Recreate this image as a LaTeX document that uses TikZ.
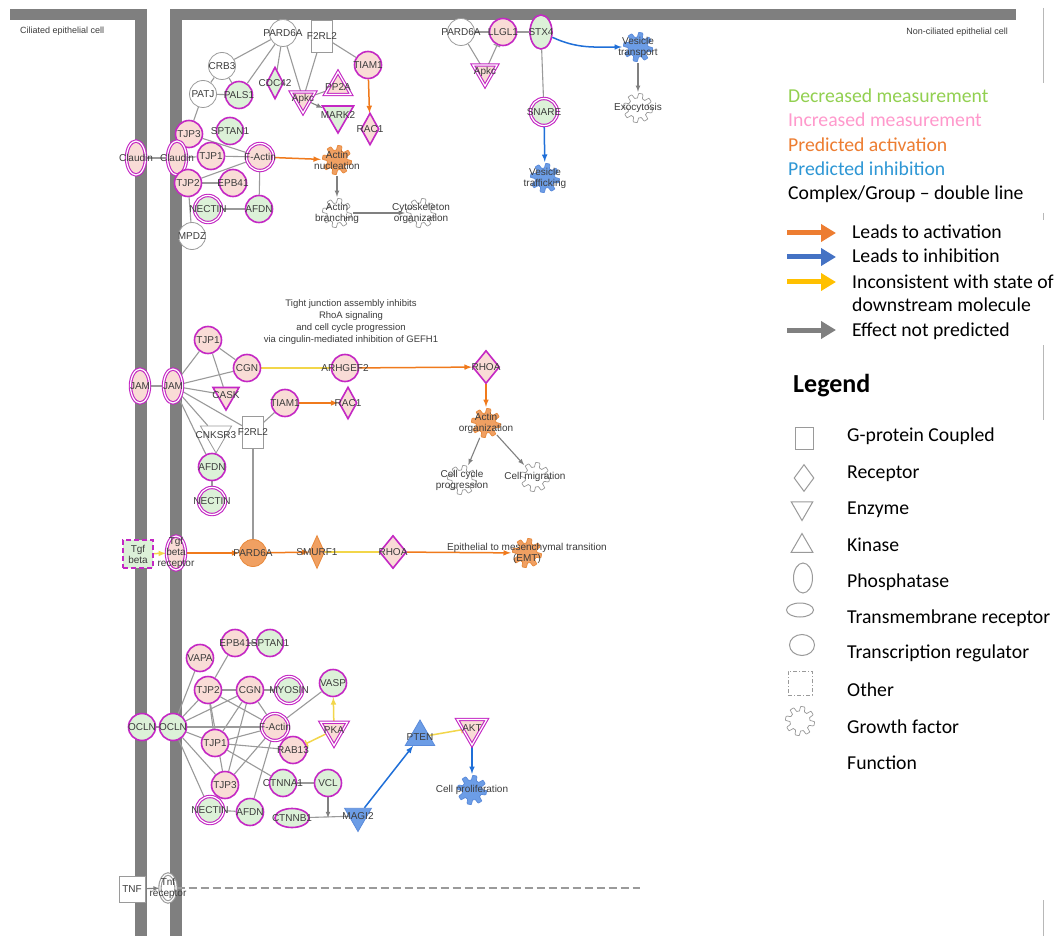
\documentclass[tikz,border=0pt]{standalone}
\usepackage{fontspec}
\setmainfont{Liberation Sans}
\newfontfamily\calib{Carlito}
\usetikzlibrary{shapes.geometric,arrows.meta,backgrounds}

\definecolor{cMag}{HTML}{C428C4}
\definecolor{cPink}{HTML}{F9DCD6}
\definecolor{cGreen}{HTML}{DCF1D8}
\definecolor{cOrg}{HTML}{F0A062}
\definecolor{cOrgD}{HTML}{E8883A}
\definecolor{cBlu}{HTML}{6C9DE6}
\definecolor{cBluD}{HTML}{5A8ADA}
\definecolor{cGrey}{HTML}{9A9A9A}
\definecolor{cMem}{HTML}{7F7F7F}
\definecolor{cText}{HTML}{3C3C3C}
\definecolor{cActL}{HTML}{F07A1C}
\definecolor{cInhL}{HTML}{1F6FD8}
\definecolor{cYel}{HTML}{F2D64A}
\definecolor{cArrG}{HTML}{808080}
\definecolor{lgDecr}{HTML}{92D050}
\definecolor{lgIncr}{HTML}{FF99CC}
\definecolor{lgAct}{HTML}{ED7D31}
\definecolor{lgInh}{HTML}{2E97D5}
\definecolor{lgArrInh}{HTML}{4472C4}
\definecolor{lgArrInc}{HTML}{FFC000}

\tikzset{
  mol/.style={circle, minimum size=27, inner sep=0pt, draw=cMag, line width=1.6pt,
    label={[lbl]center:{#1}}},
  func/.style n args={3}{circle, inner sep=0pt, minimum size=32,
    path picture={\draw[fill=#1, draw=#2, line width=0.7pt, line join=round, shift={(path picture bounding box.center)}]
      plot[domain=0:357, samples=120, variable=\t] (\t:{12.3+2.3*max(-1,min(1,3*sin(8*\t)))}) -- cycle;},
    label={[lbl]center:{#3}}},
}

\begin{document}
\begin{tikzpicture}[x=1pt,y=-1pt]
  \tikzstyle{lbl} = [inner sep=0pt, font=\fontsize{10}{11}\selectfont, text=cText, align=center]
  \tikzstyle{incr} = [fill=cPink]
  \tikzstyle{decr} = [fill=cGreen]
  \tikzstyle{act} = [fill=cOrg, draw=cOrgD, line width=0.8pt]
  \tikzstyle{inh} = [fill=cBlu, draw=cBluD, line width=0.8pt]
  \tikzstyle{unm} = [fill=white, draw=cGrey, line width=0.8pt]
  \tikzstyle{cplx} = [double=white, double distance=1.2pt, line width=1.1pt]
  \tikzstyle{rcpt} = [diamond, minimum width=18, minimum height=32]
  \tikzstyle{enz} = [regular polygon, regular polygon sides=3, shape border rotate=180, minimum size=32]
  \tikzstyle{kin} = [regular polygon, regular polygon sides=3, minimum size=32]
  \tikzstyle{tmr} = [ellipse, minimum width=19, minimum height=34]
  \tikzstyle{gpcr} = [rectangle, minimum width=21, minimum height=32]
  \tikzstyle{oth} = [rectangle, dash pattern=on 5pt off 3pt, minimum width=30, minimum height=28]
  \tikzstyle{rel} = [draw=cGrey, line width=1.1pt]
  \tikzstyle{actarr} = [draw=cActL, line width=1.5pt, -latex]
  \tikzstyle{inharr} = [draw=cInhL, line width=1.5pt, -latex]
  \tikzstyle{inco} = [draw=cYel, line width=1.5pt]
  \tikzstyle{noeff} = [draw=cArrG, line width=1.1pt, -latex]
  \tikzstyle{leg} = [anchor=base west, inner sep=0pt, font=\calib\fontsize{19.7}{22}\selectfont]
  \tikzstyle{lgs} = [draw=cGrey, line width=1pt, inner sep=0pt, fill=white]
  \tikzstyle{legarr} = [line width=5pt, -{Triangle[length=15pt,width=17pt]}]

  \useasboundingbox (0,0) rectangle (1058,936);

  % cell labels
  \node[lbl, anchor=west, font=\fontsize{9}{10}\selectfont] (cellL) at (20,31) {Ciliated epithelial cell};
  \node[lbl, anchor=east, font=\fontsize{9}{10}\selectfont] (cellR) at (1008,32) {Non-ciliated epithelial cell};

  % top left group
  \node[mol=PARD6A, unm] (pardA) at (283,33) {};
  \node[mol=F2RL2, unm, gpcr] (ftwoA) at (322,36) {};
  \node[mol=CRB3, unm] (crb3) at (222,66) {};
  \node[mol=PATJ, unm] (patj) at (203,94) {};
  \node[mol=PALS1, decr] (pals1) at (239,95) {};
  \node[mol=CDC42, decr, rcpt, minimum width=17] (cdc42) at (275,83) {};
  \node[mol=Apkc, incr, enz, cplx, minimum size=28] (apkcA) at (303,99) {};
  \node[mol=PP2A, incr, kin, cplx, minimum size=30] (pp2a) at (338,87) {};
  \node[mol=MARK2, decr, enz, minimum size=36] (mark2) at (338,115) {};
  \node[mol=TIAM1, incr] (tiamA) at (368,65) {};
  \node[mol=RAC1, incr, rcpt] (racA) at (370,129) {};
  \node[mol=TJP3, incr] (tjp3A) at (189,134) {};
  \node[mol=SPTAN1, decr] (sptanA) at (230,131) {};
  \node[mol=Claudin, incr, tmr, cplx] (cldnL) at (136,158) {};
  \node[mol=Claudin, incr, tmr, cplx] (cldnR) at (177,158) {};
  \node[mol=TJP1, incr] (tjp1A) at (211,156) {};
  \node[mol=F-Actin, incr, cplx] (factA) at (260,157) {};
  \node[func={cOrg}{cOrgD}{Actin\\nucleation}] (actnuc) at (337,160) {};
  \node[mol=TJP2, incr] (tjp2A) at (188,183) {};
  \node[mol=EPB41, incr] (epbA) at (233,183) {};
  \node[mol=NECTIN, decr, cplx] (nectA) at (208,209) {};
  \node[mol=AFDN, decr] (afdnA) at (259,209) {};
  \node[mol=MPDZ, unm] (mpdz) at (192,236) {};
  \node[func={white}{cGrey}{Actin\\branching}] (actbr) at (337,213) {};
  \node[func={white}{cGrey}{Cytoskeleton\\organization}] (cytorg) at (421,213) {};

  % top right group
  \node[mol=PARD6A, unm] (pardB) at (461,32) {};
  \node[mol=LLGL1, incr] (llgl) at (503,32) {};
  \node[mol=STX4, decr, tmr, minimum width=22] (stx4) at (541,32) {};
  \node[mol=Apkc, incr, enz, cplx, minimum size=28] (apkcB) at (485,72) {};
  \node[mol=SNARE, decr, cplx] (snare) at (544,112) {};
  \node[func={cBlu}{cBluD}{Vesicle\\transport}] (vtrans) at (638,47) {};
  \node[func={white}{cGrey}{Exocytosis}] (exo) at (638,108) {};
  \node[func={cBlu}{cBluD}{Vesicle\\trafficking}] (vtraf) at (545,178) {};

  % middle group
  \node[lbl, font=\fontsize{9.5}{11.7}\selectfont] (note) at (351,322) {Tight junction assembly inhibits\\RhoA signaling\\and cell cycle progression\\via cingulin-mediated inhibition of GEFH1};
  \node[mol=JAM, incr, tmr, cplx] (jamL) at (140,386) {};
  \node[mol=JAM, incr, tmr, cplx] (jamR) at (173,386) {};
  \node[mol=TJP1, incr] (tjp1B) at (208,340) {};
  \node[mol=CGN, incr] (cgnB) at (247,368) {};
  \node[mol=CASK, incr, enz, minimum size=30] (cask) at (226,395) {};
  \node[mol=TIAM1, incr] (tiamB) at (285,403) {};
  \node[mol=RAC1, incr, rcpt] (racB) at (348,403) {};
  \node[mol=ARHGEF2, incr] (arhgef) at (345,368) {};
  \node[mol=F2RL2, unm, gpcr] (ftwoB) at (253,432) {};
  \node[mol=CNKSR3, unm, enz, minimum size=36] (cnksr) at (216,435) {};
  \node[mol=AFDN, decr] (afdnB) at (212,467) {};
  \node[mol=NECTIN, decr, cplx] (nectB) at (212,501) {};
  \node[mol=RHOA, incr, rcpt, minimum width=27, minimum height=33] (rhoaB) at (486,367) {};
  \node[func={cOrg}{cOrgD}{Actin\\organization}] (actorg) at (486,423) {};
  \node[func={white}{cGrey}{Cell cycle\\progression}] (ccprog) at (462,480) {};
  \node[func={white}{cGrey}{Cell migration}] (cmig) at (535,477) {};

  % tgf row
  \node[mol={Tgf\\beta}, decr, oth] (tgfb) at (138,554) {};
  \node[mol={Tgf\\beta\\receptor}, incr, tmr, cplx] (tgfr) at (176,553) {};
  \node[mol=PARD6A, act] (pardC) at (253,553) {};
  \node[mol=SMURF1, act, rcpt, minimum width=15, minimum height=33] (smurf) at (317,552) {};
  \node[mol=RHOA, incr, rcpt, minimum width=27, minimum height=33] (rhoaC) at (393,552) {};
  \node[func={cOrg}{cOrgD}{Epithelial to mesenchymal transition\\(EMT)}] (emt) at (527,553) {};

  % bottom group
  \node[mol=EPB41, incr] (epbC) at (235,643) {};
  \node[mol=SPTAN1, decr] (sptC) at (270,643) {};
  \node[mol=VAPA, incr] (vapa) at (200,658) {};
  \node[mol=TJP2, incr] (tjp2C) at (208,690) {};
  \node[mol=CGN, incr] (cgnC) at (250,690) {};
  \node[mol=MYOSIN, decr, cplx] (myosin) at (289,690) {};
  \node[mol=VASP, decr] (vasp) at (333,683) {};
  \node[mol=OCLN, decr] (oclnL) at (142,727) {};
  \node[mol=OCLN, decr] (oclnR) at (173,727) {};
  \node[mol=F-Actin, incr, cplx] (factC) at (275,727) {};
  \node[mol=PKA, incr, enz, cplx, minimum size=31] (pka) at (334,730) {};
  \node[mol=TJP1, incr] (tjp1C) at (215,743) {};
  \node[mol=RAB13, incr] (rab13) at (293,750) {};
  \node[mol=TJP3, incr] (tjp3C) at (225,785) {};
  \node[mol=CTNNA1, decr] (ctnna) at (283,783) {};
  \node[mol=VCL, decr] (vcl) at (328,783) {};
  \node[mol=NECTIN, decr, cplx] (nectC) at (210,810) {};
  \node[mol=AFDN, decr] (afdnC) at (250,812) {};
  \node[mol=CTNNB1, decr, ellipse, minimum width=34, minimum height=19] (ctnnb) at (292,818) {};
  \node[mol=MAGI2, inh, enz, minimum size=31] (magi2) at (358,816) {};
  \coordinate (vclhit) at (328,818);
  \node[mol=PTEN, inh, kin, minimum size=34] (pten) at (420,737) {};
  \node[mol=AKT, incr, enz, cplx, minimum size=34] (akt) at (472,728) {};
  \node[func={cBlu}{cBluD}{Cell proliferation}] (cprol) at (472,790) {};

  % tnf
  \node[mol=TNF, unm, rectangle, minimum size=26] (tnf) at (132,889) {};
  \node[mol={Tnf\\receptor}, unm, tmr, cplx, minimum width=16, minimum height=28] (tnfr) at (168,888) {};
  \coordinate (tnfend) at (640,888);

  % legend
  \node[leg, text=lgDecr] (lgdecr) at (788,103) {Decreased measurement};
  \node[leg, text=lgIncr] (lgincr) at (788,127) {Increased measurement};
  \node[leg, text=lgAct] (lgact) at (788,152) {Predicted activation};
  \node[leg, text=lgInh] (lginh) at (788,176) {Predicted inhibition};
  \node[leg] (lgcplx) at (788,200) {Complex/Group – double line};
  \coordinate (la1) at (787,233); \coordinate (lb1) at (836,233);
  \coordinate (la2) at (787,257); \coordinate (lb2) at (836,257);
  \coordinate (la3) at (787,282); \coordinate (lb3) at (836,282);
  \coordinate (la4) at (787,330); \coordinate (lb4) at (836,330);
  \draw[legarr, draw=lgAct] (la1) -- (lb1);
  \draw[legarr, draw=lgArrInh] (la2) -- (lb2);
  \draw[legarr, draw=lgArrInc] (la3) -- (lb3);
  \draw[legarr, draw=cArrG] (la4) -- (lb4);
  \node[leg] (lt1) at (852,239) {Leads to activation};
  \node[leg] (lt2) at (852,263) {Leads to inhibition};
  \node[leg] (lt3) at (852,288) {Inconsistent with state of};
  \node[leg] (lt3b) at (852,312) {downstream molecule};
  \node[leg] (lt4) at (852,336) {Effect not predicted};

  \node[anchor=base west, inner sep=0pt, font=\calib\bfseries\fontsize{26}{30}\selectfont] (lgtitle) at (793,392) {Legend};
  \node[lgs, rectangle, minimum width=18, minimum height=22] (ls1) at (804,438) {};
  \node[lgs, diamond, minimum width=20, minimum height=27] (ls2) at (804,478) {};
  \node[lgs, regular polygon, regular polygon sides=3, shape border rotate=180, minimum size=25] (ls3) at (802,508) {};
  \node[lgs, regular polygon, regular polygon sides=3, minimum size=25] (ls4) at (802,546) {};
  \node[lgs, ellipse, minimum width=19, minimum height=30] (ls5) at (803,578) {};
  \node[lgs, ellipse, minimum width=27, minimum height=14] (ls6) at (800,610) {};
  \node[lgs, ellipse, minimum width=25, minimum height=21] (ls7) at (802,645) {};
  \node[lgs, rectangle, dash pattern=on 4pt off 2pt on 1pt off 2pt, minimum width=24, minimum height=24] (ls8) at (800,683) {};
  \node[func={white}{cGrey}{}] (ls9) at (800,721) {};
  \node[leg] (lg1) at (847,441) {G-protein Coupled};
  \node[leg] (lg2) at (847,478) {Receptor};
  \node[leg] (lg3) at (847,514) {Enzyme};
  \node[leg] (lg4) at (847,551) {Kinase};
  \node[leg] (lg5) at (847,587) {Phosphatase};
  \node[leg] (lg6) at (847,623) {Transmembrane receptor};
  \node[leg] (lg7) at (847,658) {Transcription regulator};
  \node[leg] (lg8) at (847,696) {Other};
  \node[leg] (lg9) at (847,733) {Growth factor};
  \node[leg] (lg10) at (847,769) {Function};

  \begin{pgfonlayer}{background}
    \fill[white] (0,0) rectangle (1058,936);
    % membranes
    \fill[cMem] (10,9) rectangle (147,20);
    \fill[cMem] (135,9) rectangle (147,936);
    \fill[cMem] (170,9) rectangle (1016,20);
    \fill[cMem] (170,9) rectangle (182,936);
    \draw[cGrey!70, line width=0.8pt] (1043,8) -- (1043,83);
    \draw[cGrey!70, line width=0.8pt] (1043,213) -- (1043,220);
    \draw[cGrey!70, line width=0.8pt] (1043,345) -- (1043,420);
    \draw[cGrey!70, line width=0.8pt] (1043,900) -- (1043,936);

    % top left
    \draw[rel] (pardA) -- (crb3);
    \draw[rel] (pardA) -- (pals1);
    \draw[rel] (pardA) -- (cdc42);
    \draw[rel] (pardA) -- (apkcA);
    \draw[rel] (ftwoA) -- (apkcA);
    \draw[rel] (ftwoA) -- (tiamA);
    \draw[rel] (crb3) -- (patj);
    \draw[rel] (crb3) -- (pals1);
    \draw[rel] (patj) -- (pals1);
    \draw[rel] (patj) -- (tjp3A);
    \draw[rel] (apkcA) -- (pp2a);
    \draw[noeff] (apkcA) -- (mark2);
    \draw[rel] (cldnL) -- (cldnR);
    \draw[rel] (cldnR) -- (tjp1A);
    \draw[rel] (tjp3A) -- (factA);
    \draw[rel] (tjp1A) -- (factA);
    \draw[rel] (tjp2A) -- (factA);
    \draw[rel] (tjp2A) -- (epbA);
    \draw[rel] (tjp2A) -- (mpdz);
    \draw[rel] (nectA) -- (afdnA);
    \draw[rel] (factA) -- (afdnA);
    \draw[actarr] (tiamA) -- (racA);
    \draw[actarr] (factA) -- (actnuc);
    \draw[noeff] (actnuc) -- (actbr);
    \draw[noeff] (actbr) -- (cytorg);

    % top right
    \draw[rel] (pardB) -- (llgl);
    \draw[rel] (llgl) -- (stx4);
    \draw[rel] (pardB) -- (apkcB);
    \draw[rel, -{Bar[width=7pt]}] (apkcB) -- (llgl);
    \draw[rel] (stx4) -- (snare);
    \draw[inharr] (stx4) to[out=-25, in=180] (vtrans);
    \draw[inharr] (snare) -- (vtraf);
    \draw[noeff] (vtrans) -- (exo);

    % middle
    \draw[rel] (jamL) -- (jamR);
    \draw[rel] (jamR) -- (tjp1B);
    \draw[rel] (jamR) -- (cgnB);
    \draw[rel] (jamR) -- (cask);
    \draw[rel] (jamR) -- (ftwoB);
    \draw[rel] (jamR) -- (cnksr);
    \draw[rel] (jamR) -- (afdnB);
    \draw[rel] (tjp1B) -- (cgnB);
    \draw[rel] (tjp1B) -- (cask);
    \draw[rel] (ftwoB) -- (tiamB);
    \draw[rel] (afdnB) -- (nectB);
    \draw[rel] (ftwoB) -- (pardC);
    \draw[inco] (cgnB) -- (arhgef);
    \draw[actarr] (arhgef) -- (rhoaB);
    \draw[actarr] (tiamB) -- (racB);
    \draw[actarr] (rhoaB) -- (actorg);
    \draw[noeff] (actorg) -- (ccprog);
    \draw[noeff] (actorg) -- (cmig);

    % tgf row
    \draw[inco, -latex] (tgfb) -- (tgfr);
    \draw[actarr] (tgfr) -- (pardC);
    \draw[actarr] (pardC) -- (smurf);
    \draw[inco] (smurf) -- (rhoaC);
    \draw[actarr] (rhoaC) -- (emt);

    % bottom
    \draw[rel] (oclnL) -- (oclnR);
    \draw[rel] (oclnR) -- (vapa);
    \draw[rel] (oclnR) -- (tjp2C);
    \draw[rel] (oclnR) -- (cgnC);
    \draw[rel] (oclnR) -- (factC);
    \draw[rel] (oclnR) -- (tjp1C);
    \draw[rel] (oclnR) -- (tjp3C);
    \draw[rel] (oclnR) -- (nectC);
    \draw[rel] (epbC) -- (tjp2C);
    \draw[rel] (epbC) -- (sptC);
    \draw[rel] (tjp2C) -- (cgnC);
    \draw[rel] (cgnC) -- (myosin);
    \draw[rel] (tjp2C) -- (tjp1C);
    \draw[rel] (tjp2C) -- (factC);
    \draw[rel] (tjp2C) -- (tjp3C);
    \draw[rel] (cgnC) -- (tjp1C);
    \draw[rel] (cgnC) -- (tjp3C);
    \draw[rel] (cgnC) -- (factC);
    \draw[rel] (tjp1C) -- (factC);
    \draw[rel] (tjp1C) -- (rab13);
    \draw[rel] (tjp1C) -- (ctnna);
    \draw[rel] (tjp3C) -- (factC);
    \draw[rel] (factC) -- (vasp);
    \draw[rel] (factC) -- (afdnC);
    \draw[rel] (ctnna) -- (vcl);
    \draw[rel] (nectC) -- (afdnC);
    \draw[rel] (ctnnb) -- (magi2);
    \draw[noeff] (vcl) -- (vclhit);
    \draw[inco, -latex] (pka) -- (vasp);
    \draw[inco, -{Bar[width=7pt]}] (pka) -- (rab13);
    \draw[inharr] (magi2) -- (pten);
    \draw[inco, -{Bar[width=7pt]}] (pten) -- (akt);
    \draw[inharr] (akt) -- (cprol);

    % tnf
    \draw[noeff] (tnf) -- (tnfr);
    \draw[rel, dash pattern=on 8pt off 4pt] (tnfr) -- (tnfend);
  \end{pgfonlayer}
\end{tikzpicture}
\end{document}
